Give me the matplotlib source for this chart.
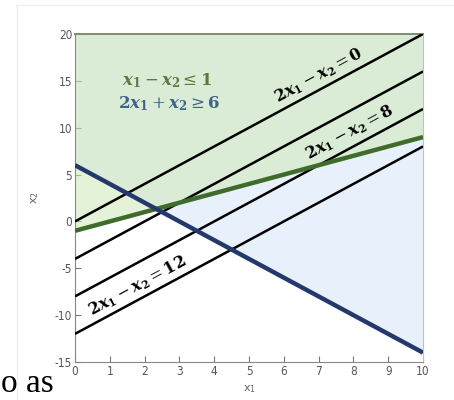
import matplotlib
matplotlib.use("Agg")
import matplotlib.pyplot as plt
from matplotlib.lines import Line2D

# line endpoints at x1 = 0 and x1 = 10
x1 = [0, 10]
black_c = [0, 4, 8, 12]                 # 2x1 - x2 = c
black_x2 = [[0, 20], [-4, 16], [-8, 12], [-12, 8]]
green_x2 = [-1, 9]                      # x1 - x2 = 1
blue_x2 = [6, -14]                      # 2x1 + x2 = 6

xticks = list(range(0, 11))
yticks = [-15, -10, -5, 0, 5, 10, 15, 20]


def eq(lhs_coef, op, rhs):
    # bold italic variables, bold digits, like the Cambria Math labels
    return (r"$\mathbf{%s}\mathbfit{x}_{\mathbf{1}} %s \mathbfit{x}_{\mathbf{2}} %s"
            r" \mathbf{%s}$" % (lhs_coef, op[0], op[1], rhs))


# labels on the level lines: (text, x, y)
line_labels = [
    (eq("2", ("-", "="), "0"), 7.0, 15.6),
    (eq("2", ("-", "="), "8"), 7.9, 9.5),
    (eq("2", ("-", "="), "12"), 1.8, -6.9),
]

plt.rcParams["mathtext.fontset"] = "dejavuserif"
plt.rcParams["axes.unicode_minus"] = False

fig = plt.figure(figsize=(4.54, 4.0), dpi=100)
ax = fig.add_axes([75 / 454, 38 / 400, 348 / 454, 328 / 400])

ax.fill_between(x1, blue_x2, [20, 20], color="#e8f1fb", lw=0, zorder=1)
ax.fill_between(x1, green_x2, [20, 20], color="#cfe8b8", alpha=0.55, lw=0, zorder=2)

for ys in black_x2:
    ax.plot(x1, ys, color="black", lw=1.8, zorder=3, solid_capstyle="butt")
ax.plot(x1, green_x2, color="#3f6b2b", lw=3.2, zorder=4, solid_capstyle="butt")
ax.plot(x1, blue_x2, color="#24396b", lw=3.2, zorder=5, solid_capstyle="butt")

ax.set_xlim(0, 10)
ax.set_ylim(-15, 20)
ax.set_xticks(xticks)
ax.set_yticks(yticks)
ax.tick_params(direction="in", length=4, width=0.8, colors="#777777",
               labelcolor="#555555", labelsize=8.5, pad=2)
for lab in ax.get_xticklabels() + ax.get_yticklabels():
    lab.set_fontstretch("condensed")

ax.spines["left"].set_color("#888888")
ax.spines["bottom"].set_color("#888888")
ax.spines["top"].set_color("#7d8c72")
ax.spines["top"].set_linewidth(1.4)
ax.spines["right"].set_color("#b4c4d4")

ax.set_xlabel(r"$\mathregular{x_1}$", color="#666666", fontsize=8, labelpad=4)
ax.set_ylabel(r"$\mathregular{x_2}$", color="#666666", fontsize=8, labelpad=10)

for txt, tx, ty in line_labels:
    ax.text(tx, ty, txt, rotation=28.3, ha="center", va="center",
            fontsize=11.5, color="black", zorder=6)

ax.text(2.65, 15.0,
        r"$\mathbfit{x}_{\mathbf{1}} - \mathbfit{x}_{\mathbf{2}} \leq \mathbf{1}$",
        ha="center", va="center", fontsize=12, color="#5b7a3c", zorder=6)
ax.text(2.7, 12.6,
        r"$\mathbf{2}\mathbfit{x}_{\mathbf{1}} + \mathbfit{x}_{\mathbf{2}} \geq \mathbf{6}$",
        ha="center", va="center", fontsize=12, color="#3f6288", zorder=6)

# faint frame of the screenshot and the caption text left of it
fig.add_artist(Line2D([16 / 454, 1], [395 / 400, 395 / 400], color="#eeeeee", lw=1))
fig.add_artist(Line2D([17 / 454, 17 / 454], [0, 395 / 400], color="#eeeeee", lw=1))
fig.text(1 / 454, 8 / 400, "o as", fontsize=24, family="Liberation Serif",
         color="black", ha="left", va="baseline")

fig.savefig("out.png", dpi=100)
